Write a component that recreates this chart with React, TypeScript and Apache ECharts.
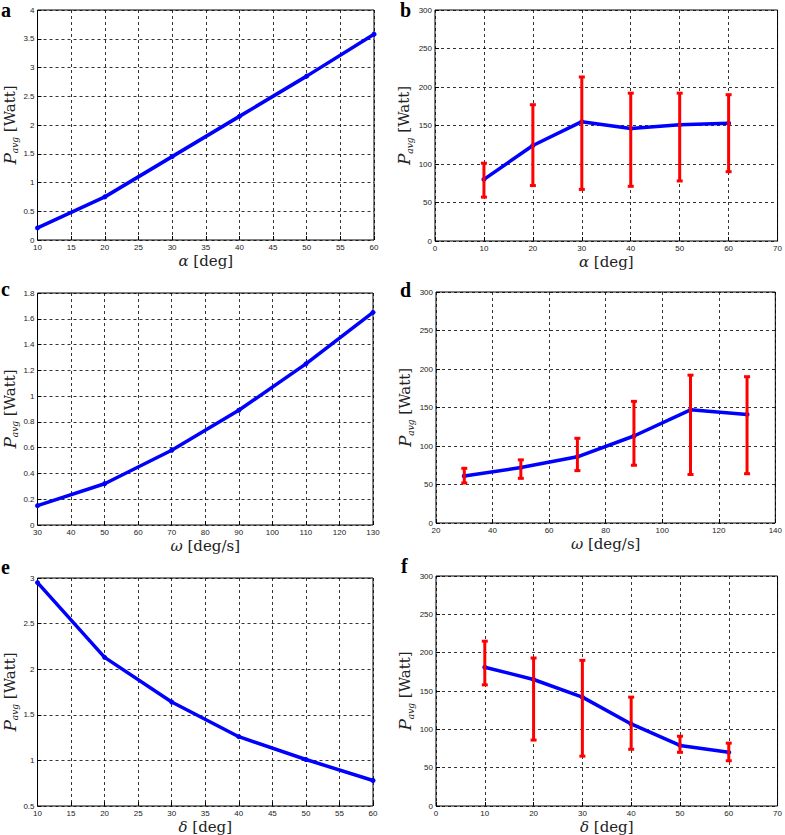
import React, { useEffect, useRef } from "react";
import * as echarts from "echarts";

// Panel a: P_avg vs alpha (model)
const aX = [10, 20, 30, 40, 50, 60];
const aY = [0.21, 0.75, 1.45, 2.15, 2.85, 3.58];
// Panel b: P_avg vs alpha (experiment)
const bX = [10, 20, 30, 40, 50, 60];
const bY = [80, 124, 155, 146, 151, 153];
const bLo = [57, 72, 67, 71, 78, 90];
const bHi = [101, 177, 213, 192, 192, 190];
// Panel c: P_avg vs omega (model)
const cX = [30, 50, 70, 90, 110, 130];
const cY = [0.15, 0.32, 0.58, 0.89, 1.25, 1.65];
// Panel d: P_avg vs omega (experiment)
const dX = [30, 50, 70, 90, 110, 130];
const dY = [61, 72, 86, 113, 147, 141];
const dLo = [52, 58, 68, 75, 63, 64];
const dHi = [71, 82, 110, 158, 192, 190];
// Panel e: P_avg vs delta (model)
const eX = [10, 20, 30, 40, 50, 60];
const eY = [2.95, 2.13, 1.64, 1.26, 1.01, 0.78];
// Panel f: P_avg vs delta (experiment)
const fX = [10, 20, 30, 40, 50, 60];
const fY = [181, 165, 142, 107, 79, 70];
const fLo = [158, 86, 65, 74, 70, 59];
const fHi = [215, 193, 190, 142, 91, 82];

const letters = ["a", "b", "c", "d", "e", "f"];
const xSymbols = ["α", "α", "ω", "ω", "δ", "δ"];
const xUnits = ["[deg]", "[deg]", "[deg/s]", "[deg/s]", "[deg]", "[deg]"];

const SERIF = "DejaVu Serif";
const SANS = "Liberation Sans";

const grids = [
  { left: 31, top: 10, width: 343, height: 230 },
  { left: 435, top: 10, width: 343, height: 231 },
  { left: 31, top: 293, width: 342, height: 232 },
  { left: 436, top: 292, width: 342, height: 231 },
  { left: 30, top: 578, width: 343, height: 231 },
  { left: 436, top: 576, width: 342, height: 231 },
];

const xRanges = [
  [10, 60, 5],
  [0, 70, 10],
  [30, 130, 10],
  [20, 140, 20],
  [10, 60, 5],
  [0, 70, 10],
];
const yRanges = [
  [0, 4, 0.5],
  [0, 300, 50],
  [0, 1.8, 0.2],
  [0, 300, 50],
  [0.5, 3, 0.5],
  [0, 300, 50],
];

const letterPos = [
  [1, 20],
  [400, 20],
  [1, 299],
  [400, 300],
  [1, 577],
  [401, 576],
];

export default function App() {
  const ref = useRef<HTMLDivElement>(null);
  useEffect(() => {
    if (!ref.current) return;
    const chart = echarts.init(ref.current, null, { renderer: "svg" });

    const lines = [
      [aX, aY],
      [bX, bY],
      [cX, cY],
      [dX, dY],
      [eX, eY],
      [fX, fY],
    ];
    const errs: any = { 1: [bX, bLo, bHi], 3: [dX, dLo, dHi], 5: [fX, fLo, fHi] };

    const xAxis: any[] = [];
    const yAxis: any[] = [];
    const series: any[] = [];
    grids.forEach((g, i) => {
      const [xmin, xmax, xint] = xRanges[i];
      const [ymin, ymax, yint] = yRanges[i];
      xAxis.push({
        type: "value",
        gridIndex: i,
        min: xmin,
        max: xmax,
        interval: xint,
        name: `{i|${xSymbols[i]}} {n|${xUnits[i]}}`,
        nameLocation: "middle",
        nameGap: 13,
        nameTextStyle: {
          fontFamily: SERIF,
          fontSize: 15,
          color: "#222",
          rich: {
            i: { fontFamily: SERIF, fontStyle: "italic", fontWeight: "normal", fontSize: 15, color: "#222" },
            n: { fontFamily: SERIF, fontStyle: "normal", fontWeight: "normal", fontSize: 15, color: "#222" },
          },
        },
        axisLine: { show: false },
        axisTick: { show: true, inside: true, length: 4, lineStyle: { color: "#000" } },
        axisLabel: { fontFamily: SANS, fontSize: 8, color: "#222", margin: 3 },
        splitLine: { show: true, lineStyle: { color: "#000", type: [3, 3], width: 0.8 } },
      });
      yAxis.push({
        type: "value",
        gridIndex: i,
        min: ymin,
        max: ymax,
        interval: yint,
        name: `{i|P}{s|avg} {n|[Watt]}`,
        nameLocation: "middle",
        nameRotate: 90,
        nameGap: i % 2 === 0 ? 15 : 21,
        nameTextStyle: {
          fontFamily: SERIF,
          fontSize: 15,
          color: "#222",
          rich: {
            i: { fontFamily: SERIF, fontStyle: "italic", fontWeight: "normal", fontSize: 17, color: "#222", lineHeight: 20 },
            s: { fontFamily: SERIF, fontStyle: "italic", fontWeight: "normal", fontSize: 9, color: "#222", verticalAlign: "bottom", lineHeight: 9 },
            n: { fontFamily: SERIF, fontStyle: "normal", fontWeight: "normal", fontSize: 15, color: "#222", lineHeight: 20 },
          },
        },
        axisLine: { show: false },
        axisTick: { show: true, inside: true, length: 4, lineStyle: { color: "#000" } },
        axisLabel: { fontFamily: SANS, fontSize: 8, color: "#222", margin: 3 },
        splitLine: { show: true, lineStyle: { color: "#000", type: [3, 3], width: 0.8 } },
      });
      const [xs, ys] = lines[i] as number[][];
      series.push({
        type: "line",
        xAxisIndex: i,
        yAxisIndex: i,
        data: xs.map((x, j) => [x, ys[j]]),
        symbol: "circle",
        symbolSize: 5,
        lineStyle: { color: "#0000ff", width: 3.5 },
        itemStyle: { color: "#0000ff" },
        z: 2,
      });
      if (errs[i]) {
        const [ex, lo, hi] = errs[i];
        series.push({
          type: "custom",
          xAxisIndex: i,
          yAxisIndex: i,
          data: ex.map((x: number, j: number) => [x, lo[j], hi[j]]),
          encode: { x: 0, y: [1, 2] },
          z: 3,
          renderItem: (params: any, api: any) => {
            const x = api.value(0);
            const p1 = api.coord([x, api.value(1)]);
            const p2 = api.coord([x, api.value(2)]);
            const w = 3;
            const st = { stroke: "#ff0000", lineWidth: 3 };
            return {
              type: "group",
              children: [
                { type: "line", shape: { x1: p1[0], y1: p1[1], x2: p2[0], y2: p2[1] }, style: st },
                { type: "line", shape: { x1: p1[0] - w, y1: p1[1], x2: p1[0] + w, y2: p1[1] }, style: st },
                { type: "line", shape: { x1: p2[0] - w, y1: p2[1], x2: p2[0] + w, y2: p2[1] }, style: st },
              ],
            };
          },
        });
      }
    });

    chart.setOption({
      animation: false,
      backgroundColor: "#fff",
      grid: grids.map((g) => ({
        ...g,
        show: true,
        borderColor: "#000",
        borderWidth: 1,
        backgroundColor: "#fff",
      })),
      xAxis,
      yAxis,
      series,
      graphic: letters.map((l, i) => ({
        type: "text",
        x: letterPos[i][0],
        y: letterPos[i][1],
        style: {
          text: l,
          font: `bold 20px Liberation Serif`,
          fill: "#000",
          verticalAlign: "bottom",
        },
      })),
    });
    return () => chart.dispose();
  }, []);
  return (
    <div
      ref={ref}
      style={{ position: "absolute", left: 0, top: 0, width: 785, height: 835 }}
    />
  );
}
